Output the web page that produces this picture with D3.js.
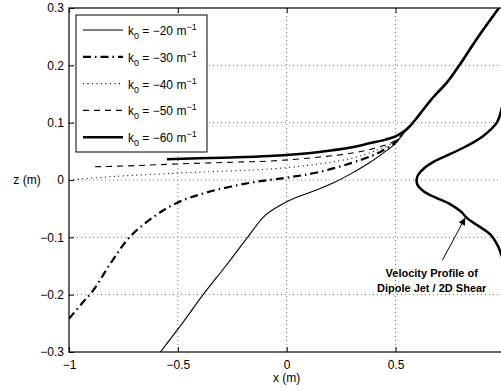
<!DOCTYPE html>
<html>
<head>
<meta charset="utf-8">
<script src="https://cdn.jsdelivr.net/npm/d3@7"></script>
<style>
  body { margin: 0; background: #fff; }
  text { font-family: Helvetica, Arial, "Liberation Sans", sans-serif; }
</style>
</head>
<body>
<svg id="chart" width="501" height="391"></svg>
<script>
// ---- data ----
var xTicks = [-1, -0.5, 0, 0.5, 1];
var zTicks = [-0.3, -0.2, -0.1, 0, 0.1, 0.2, 0.3];

var k0Labels = ['\u221220', '\u221230', '\u221240', '\u221250', '\u221260'];

var k20x = [-0.58, -0.48, -0.384, -0.28, -0.18, -0.10, -0.02, 0.06, 0.14, 0.22, 0.30, 0.38, 0.44, 0.50];
var k20z = [-0.3, -0.25, -0.2, -0.15, -0.1, -0.062, -0.042, -0.028, -0.017, -0.004, 0.012, 0.03, 0.046, 0.064];

var k30x = [-1, -0.94, -0.888, -0.80, -0.72, -0.61, -0.505, -0.37, -0.17, 0, 0.15, 0.34, 0.43, 0.50];
var k30z = [-0.242, -0.215, -0.192, -0.14, -0.099, -0.064, -0.04, -0.022, -0.005, 0.004, 0.014, 0.035, 0.049, 0.066];

var k40x = [-1, -0.8, -0.5, -0.25, -0.08, 0.15, 0.30, 0.40, 0.50];
var k40z = [0.0, 0.006, 0.012, 0.016, 0.019, 0.028, 0.038, 0.05, 0.067];

var k50x = [-0.88, -0.7, -0.5, -0.25, -0.08, 0.15, 0.30, 0.40, 0.50];
var k50z = [0.023, 0.025, 0.028, 0.031, 0.033, 0.04, 0.047, 0.055, 0.069];

var k60x = [-0.55, -0.3, -0.08, 0.15, 0.30, 0.38, 0.45, 0.50];
var k60z = [0.036, 0.039, 0.042, 0.049, 0.057, 0.064, 0.07, 0.076];

// all curves merge into the same branch above z ~ 0.08
var tailX = [0.55, 0.58, 0.67, 0.74, 0.80, 0.88, 0.975];
var tailZ = [0.088, 0.1, 0.143, 0.172, 0.204, 0.25, 0.3];

var velX = [1.01, 0.99, 0.965, 0.90, 0.82, 0.75, 0.68, 0.63, 0.60, 0.60, 0.63, 0.68, 0.75, 0.80, 0.83, 0.88, 0.935, 0.97, 0.99, 1.01];
var velZ = [0.16, 0.128, 0.1, 0.076, 0.058, 0.045, 0.033, 0.02, 0.006, -0.008, -0.02, -0.03, -0.042, -0.055, -0.067, -0.08, -0.095, -0.115, -0.135, -0.16];

var arrowFrom = [0.715, -0.14];
var arrowTo = [0.82, -0.066];
var noteLines = ['Velocity Profile of', 'Dipole Jet / 2D Shear'];

// ---- layout ----
var svg = d3.select('#chart');
var padding = {t: 8, l: 69};
var plotW = 435.4, plotH = 344;

var xScale = d3.scaleLinear().domain([-1, 1]).range([0, plotW]);
var yScale = d3.scaleLinear().domain([-0.3, 0.3]).range([plotH, 0]);

var fmt = function(d) { return d < 0 ? '\u2212' + String(-d) : String(d); };

var plot = svg.append('g')
    .attr('transform', 'translate(' + [padding.l, padding.t] + ')');

plot.append('clipPath').attr('id', 'clip')
    .append('rect').attr('width', plotW).attr('height', plotH);

// grid
plot.append('g').selectAll('line')
    .data(xTicks.slice(1, -1))
    .enter().append('line')
    .attr('x1', function(d) { return xScale(d); })
    .attr('x2', function(d) { return xScale(d); })
    .attr('y1', 0).attr('y2', plotH)
    .attr('stroke', '#777').attr('stroke-width', 1)
    .attr('stroke-dasharray', '1,3');

plot.append('g').selectAll('line')
    .data(zTicks.slice(1, -1))
    .enter().append('line')
    .attr('y1', function(d) { return yScale(d); })
    .attr('y2', function(d) { return yScale(d); })
    .attr('x1', 0).attr('x2', plotW)
    .attr('stroke', '#777').attr('stroke-width', 1)
    .attr('stroke-dasharray', '1,3');

// curves
var line = d3.line()
    .x(function(d) { return xScale(d[0]); })
    .y(function(d) { return yScale(d[1]); })
    .curve(d3.curveCatmullRom);

function pts(xs, zs) {
    var out = xs.map(function(x, i) { return [x, zs[i]]; });
    return out.concat(tailX.map(function(x, i) { return [x, tailZ[i]]; }));
}

var series = [
    {pts: pts(k20x, k20z), w: 1.1, dash: null},
    {pts: pts(k30x, k30z), w: 2.2, dash: '8,4,1.5,4'},
    {pts: pts(k40x, k40z), w: 1.1, dash: '1,3.5'},
    {pts: pts(k50x, k50z), w: 1.1, dash: '6,5'},
    {pts: pts(k60x, k60z), w: 2.5, dash: null}
];

var curves = plot.append('g').attr('clip-path', 'url(#clip)');

curves.selectAll('.curve')
    .data(series)
    .enter().append('path')
    .attr('class', 'curve')
    .attr('d', function(d) { return line(d.pts); })
    .attr('fill', 'none')
    .attr('stroke', '#000')
    .attr('stroke-width', function(d) { return d.w; })
    .attr('stroke-dasharray', function(d) { return d.dash; });

curves.append('path')
    .attr('d', line(velX.map(function(x, i) { return [x, velZ[i]]; })))
    .attr('fill', 'none')
    .attr('stroke', '#000')
    .attr('stroke-width', 2.5);

// axes frame
plot.append('rect')
    .attr('width', plotW).attr('height', plotH)
    .attr('fill', 'none').attr('stroke', '#000').attr('stroke-width', 1.2);

var xAxis = d3.axisBottom(xScale).tickValues(xTicks).tickSize(-5).tickPadding(8)
    .tickFormat(function(d) { return d === 1 ? '' : fmt(d); });
var yAxis = d3.axisLeft(yScale).tickValues(zTicks).tickSize(-5).tickPadding(5).tickFormat(fmt);

plot.append('g').attr('class', 'axis')
    .attr('transform', 'translate(0,' + plotH + ')')
    .call(xAxis);
plot.append('g').attr('class', 'axis').call(yAxis);
plot.append('g').attr('class', 'axis')
    .call(d3.axisTop(xScale).tickValues(xTicks).tickSize(-5).tickFormat(''));

plot.selectAll('.axis .domain').remove();
plot.selectAll('.axis line').attr('stroke', '#000');
plot.selectAll('.axis text')
    .attr('font-size', 12)
    .attr('font-family', 'Helvetica, Arial, "Liberation Sans", sans-serif')
    .attr('fill', '#000');

// axis titles
svg.append('text')
    .attr('x', padding.l + xScale(0)).attr('y', 382)
    .attr('text-anchor', 'middle').attr('font-size', 12)
    .text('x (m)');
svg.append('text')
    .attr('x', 27).attr('y', padding.t + yScale(0) + 4)
    .attr('text-anchor', 'middle').attr('font-size', 12)
    .text('z (m)');

// legend
var legend = plot.append('g').attr('transform', 'translate(7,7)');
legend.append('rect')
    .attr('width', 131).attr('height', 137)
    .attr('fill', '#fff').attr('stroke', '#000').attr('stroke-width', 1);

var rows = legend.selectAll('.row')
    .data(series)
    .enter().append('g')
    .attr('class', 'row')
    .attr('transform', function(d, i) { return 'translate(0,' + (15 + i * 26.8) + ')'; });

rows.append('line')
    .attr('x1', 7).attr('x2', 47)
    .attr('stroke', '#000')
    .attr('stroke-width', function(d) { return d.w; })
    .attr('stroke-dasharray', function(d) { return d.dash; });

var lt = rows.append('text')
    .attr('x', 52).attr('y', 5)
    .attr('font-size', 12);
lt.append('tspan').text('k');
lt.append('tspan').attr('dy', 4).attr('font-size', 9).text('0');
lt.append('tspan').attr('dy', -4).text(function(d, i) { return ' = ' + k0Labels[i] + ' m'; });
lt.append('tspan').attr('dy', -5).attr('font-size', 9).text('\u22121');

// annotation
var defs = svg.append('defs');
defs.append('marker')
    .attr('id', 'head')
    .attr('viewBox', '0 0 10 10')
    .attr('refX', 10).attr('refY', 5)
    .attr('markerWidth', 10).attr('markerHeight', 7)
    .attr('markerUnits', 'userSpaceOnUse')
    .attr('orient', 'auto')
    .append('path').attr('d', 'M0,0 L10,5 L0,10 z').attr('fill', '#000');

plot.append('line')
    .attr('x1', xScale(arrowFrom[0])).attr('y1', yScale(arrowFrom[1]))
    .attr('x2', xScale(arrowTo[0])).attr('y2', yScale(arrowTo[1]))
    .attr('stroke', '#000').attr('stroke-width', 1)
    .attr('marker-end', 'url(#head)');

plot.selectAll('.note')
    .data(noteLines)
    .enter().append('text')
    .attr('class', 'note')
    .attr('x', xScale(0.666))
    .attr('y', function(d, i) { return yScale(-0.169) + i * 15; })
    .attr('text-anchor', 'middle')
    .attr('font-size', 11)
    .attr('font-weight', 'bold')
    .text(function(d) { return d; });
</script>
</body>
</html>
